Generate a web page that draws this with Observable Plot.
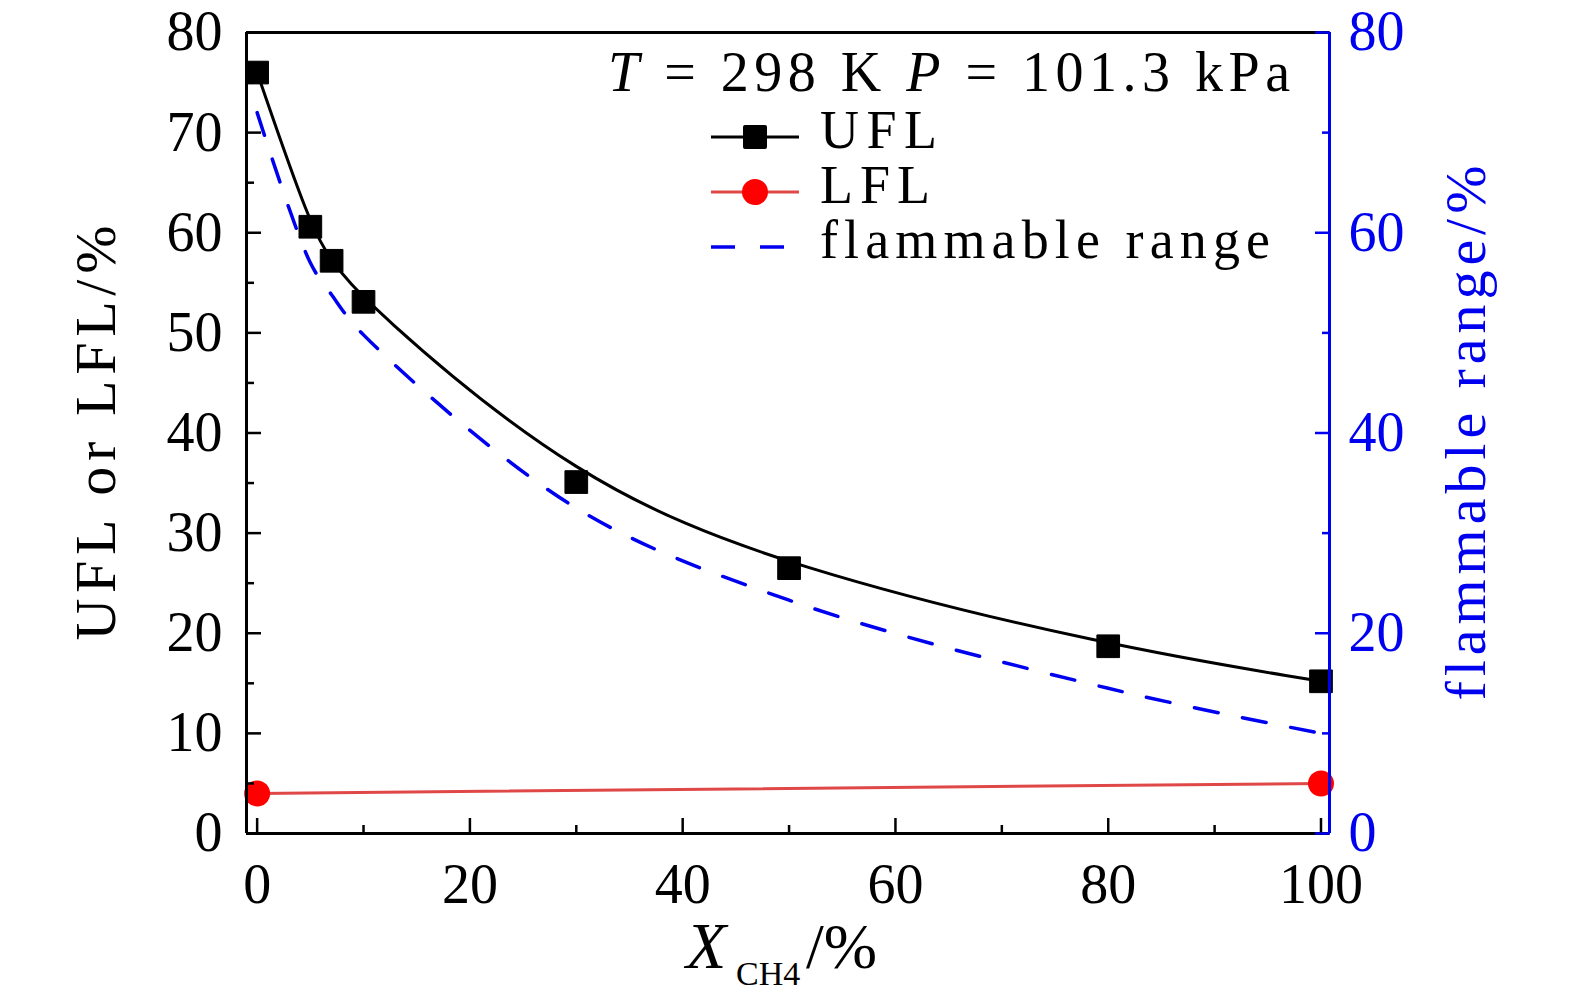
<!DOCTYPE html>
<html><head><meta charset="utf-8">
<script src="https://cdn.jsdelivr.net/npm/d3@7"></script>
<script src="https://cdn.jsdelivr.net/npm/@observablehq/plot@0.6"></script>
<style>body{margin:0;background:#fff}</style>
</head><body><div id="chart"></div>
<script>
const xCH4 = [0, 5, 7, 10, 30, 50, 80, 100];
const ufl = [76.0, 60.6, 57.2, 53.1, 35.1, 26.5, 18.7, 15.2];
const lflX = [0, 100];
const lfl = [4.0, 5.0];
const rangeX = [0, 5, 7, 10, 30, 50, 80, 100];
const range = [72.0, 57.0, 53.8, 49.8, 32.5, 23.3, 14.5, 10.0];
const xTicks = [0, 20, 40, 60, 80, 100];
const xMinor = [10, 30, 50, 70, 90];
const yTicks = [0, 10, 20, 30, 40, 50, 60, 70, 80];
const yMinor = [5, 15, 25, 35, 45, 55, 65, 75];
const y2Ticks = [0, 20, 40, 60, 80];
const y2Minor = [10, 30, 50, 70];
const xDomain = [-1, 100.8];
const yDomain = [0, 80];

const uflData = xCH4.map((x, i) => ({x, y: ufl[i]}));
const lflData = lflX.map((x, i) => ({x, y: lfl[i]}));
const rangeData = rangeX.map((x, i) => ({x, y: range[i]}));

const FONT = "'Liberation Serif', 'Times New Roman', serif";
const BLUE = "#0000f0";
const FS = 56;

const chart = Plot.plot({
  width: 1575, height: 1004,
  marginLeft: 246, marginRight: 246, marginTop: 32, marginBottom: 171,
  style: {fontFamily: FONT, fontSize: FS + "px", background: "white", color: "black", overflow: "visible"},
  x: {domain: xDomain},
  y: {domain: yDomain},
  marks: [
    Plot.line(rangeData, {x: "x", y: "y", curve: "catmull-rom", stroke: BLUE, strokeWidth: 3.5, strokeDasharray: "24,25"}),
    Plot.line(lflData, {x: "x", y: "y", stroke: "#e04848", strokeWidth: 3}),
    Plot.line(uflData, {x: "x", y: "y", curve: "basis", stroke: "black", strokeWidth: 3}),
    Plot.dot(uflData, {x: "x", y: "y", symbol: "square", r: 12.8, fill: "black", stroke: "black", strokeWidth: 1, strokeLinejoin: "round"}),
    Plot.dot(lflData, {x: "x", y: "y", r: 13, fill: "#ff0000"}),
    // frame
    Plot.ruleY([yDomain[0]], {stroke: "black", strokeWidth: 3}),
    Plot.ruleY([yDomain[1]], {stroke: "black", strokeWidth: 3}),
    Plot.ruleX([xDomain[0]], {stroke: "black", strokeWidth: 3}),
    Plot.ruleX([xDomain[1]], {stroke: BLUE, strokeWidth: 3}),
    // x axis
    Plot.axisX({ticks: xTicks, tickSize: -15, text: null, label: null, strokeWidth: 2.5}),
    Plot.axisX({ticks: xMinor, tickSize: -8, text: null, label: null, strokeWidth: 2.5}),
    Plot.axisX({ticks: xTicks, tickSize: 0, tickPadding: 30, label: null, fontSize: FS, tickFormat: d => String(d)}),
    // left y axis
    Plot.axisY({ticks: yTicks, tickSize: -15, text: null, label: null, strokeWidth: 2.5}),
    Plot.axisY({ticks: yMinor, tickSize: -8, text: null, label: null, strokeWidth: 2.5}),
    Plot.axisY({ticks: yTicks, tickSize: 0, tickPadding: 24, label: null, fontSize: FS, tickFormat: d => String(d)}),
    // right y axis
    Plot.axisY({anchor: "right", ticks: y2Ticks, tickSize: -15, text: null, label: null, stroke: BLUE, strokeWidth: 2.5}),
    Plot.axisY({anchor: "right", ticks: y2Minor, tickSize: -8, text: null, label: null, stroke: BLUE, strokeWidth: 2.5}),
    Plot.axisY({anchor: "right", ticks: y2Ticks, tickSize: 0, tickPadding: 19, label: null, fill: BLUE, fontSize: FS, tickFormat: d => String(d)})
  ]
});
document.getElementById("chart").appendChild(chart);

const svg = d3.select(chart);
const LFS = 54;
const g = svg.append("g").attr("font-family", FONT).attr("font-size", LFS).attr("text-anchor", "start").attr("fill", "black");

// condition text
const cond = g.append("text").attr("x", 608).attr("y", 91).attr("font-size", 56).attr("textLength", 682).attr("lengthAdjust", "spacing");
cond.append("tspan").attr("font-style", "italic").text("T");
cond.append("tspan").text(" = 298 K ");
cond.append("tspan").attr("font-style", "italic").text("P");
cond.append("tspan").text(" = 101.3 kPa");

// legend rows
const rows = [
  {label: "UFL", y: 137, base: 148, w: 117},
  {label: "LFL", y: 192, base: 203, w: 110},
  {label: "flammable range", y: 247, base: 258, w: 450}
];
const LX1 = 711, LX2 = 799, LXC = 755;
// UFL
g.append("line").attr("x1", LX1).attr("x2", LX2).attr("y1", rows[0].y).attr("y2", rows[0].y).attr("stroke", "black").attr("stroke-width", 3);
g.append("rect").attr("x", LXC - 12).attr("y", rows[0].y - 12).attr("width", 24).attr("height", 24).attr("fill", "black").attr("rx", 2);
// LFL
g.append("line").attr("x1", LX1).attr("x2", LX2).attr("y1", rows[1].y).attr("y2", rows[1].y).attr("stroke", "#e04848").attr("stroke-width", 3);
g.append("circle").attr("cx", LXC).attr("cy", rows[1].y).attr("r", 13).attr("fill", "#ff0000");
// range
g.append("line").attr("x1", LX1).attr("x2", LX2).attr("y1", rows[2].y).attr("y2", rows[2].y).attr("stroke", BLUE).attr("stroke-width", 3.5).attr("stroke-dasharray", "24,25");
for (const r of rows) {
  g.append("text").attr("x", 820).attr("y", r.base).attr("textLength", r.w).attr("lengthAdjust", "spacing").text(r.label);
}

// y label left
g.append("text").attr("transform", "translate(95,433) rotate(-90)").attr("text-anchor", "middle").attr("dy", "0.34em")
  .attr("font-size", 58).attr("textLength", 415).attr("lengthAdjust", "spacing").text("UFL or LFL/%");
// y label right
g.append("text").attr("transform", "translate(1468,433) rotate(-90)").attr("text-anchor", "middle").attr("dy", "0.3em")
  .attr("font-size", 58).attr("fill", BLUE).attr("textLength", 535).attr("lengthAdjust", "spacing").text("flammable range/%");
// x label
const xl = g.append("text").attr("y", 968);
xl.append("tspan").attr("x", 686).attr("font-style", "italic").attr("font-size", 66).text("X");
xl.append("tspan").attr("x", 736).attr("font-size", 34).attr("dy", 17).text("CH4");
xl.append("tspan").attr("x", 806).attr("font-size", 64).attr("dy", -17).text("/%");
</script>
</body></html>
